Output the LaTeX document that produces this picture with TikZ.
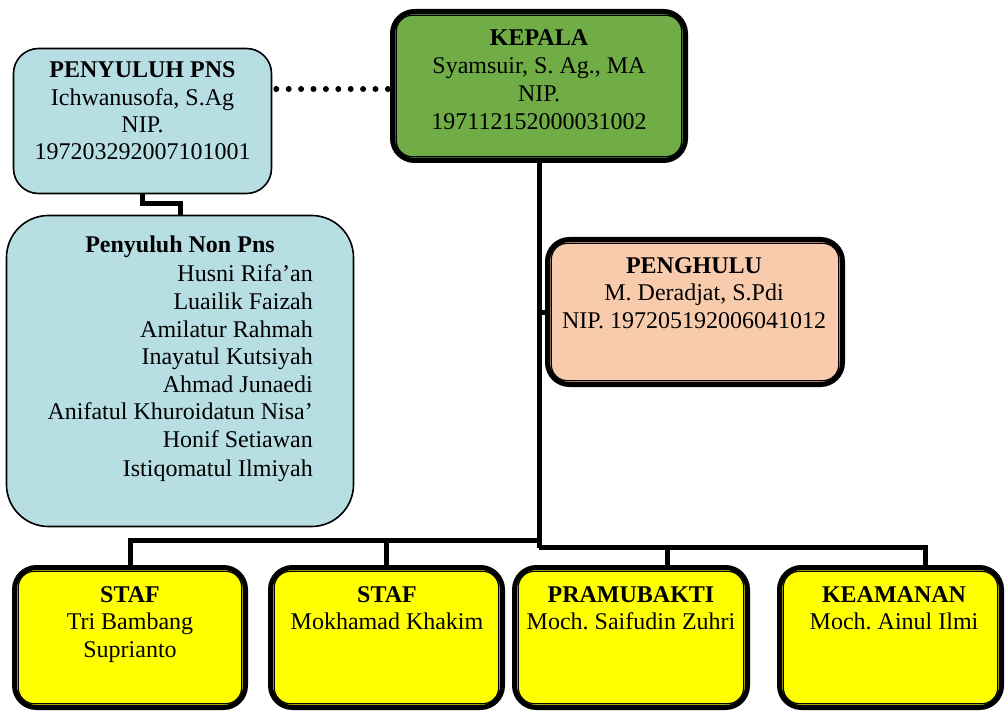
\documentclass[tikz,border=0pt]{standalone}
\usepackage{fontspec}
\setmainfont{Liberation Serif}
\usetikzlibrary{calc}
\frenchspacing
\definecolor{cgreen}{HTML}{70AD47}
\definecolor{cblue}{HTML}{B7DEE3}
\definecolor{cpeach}{HTML}{F8CBAD}
\definecolor{cyel}{HTML}{FFFF00}
\tikzset{
 txt/.style={inner sep=0pt, font=\fontsize{24}{28}\selectfont, anchor=base},
 rtxt/.style={txt, anchor=base east},
 dbox/.style={draw=black, line width=5pt, rounded corners=22pt, inner sep=0pt},
 sbox/.style={draw=black, line width=1.6pt, inner sep=0pt, fill=cblue},
 inbox/.style={draw=black, line width=1.2pt},
 conn/.style={draw=black, line width=5pt},
 dotline/.style={line width=6pt, line cap=round, dash pattern=on 0pt off 12.4pt},
}
\newcommand\innerframe[2]{\draw[inbox, rounded corners=#2] ([shift={(6.3pt,-6.3pt)}]#1.north west) rectangle ([shift={(-6.3pt,6.3pt)}]#1.south east);}
\newcommand\mklines[6]{\foreach \t [count=\i] in {#6} {\node[txt, anchor=#4] (#1\i) at (#2, {#3+#5*(\i-1)}) {\t};}}
\begin{document}
\begin{tikzpicture}[x=1pt,y=-1pt]
\useasboundingbox (0,0) rectangle (1006,711);
\clip (0,0) rectangle (1006,711);
% boxes
\node[dbox, fill=cgreen, minimum width=293pt, minimum height=149pt] (kepala) at (539,86) {};
\innerframe{kepala}{16pt}
\node[sbox, rounded corners=25pt, minimum width=258pt, minimum height=145pt] (pns) at (142.5,121) {};
\node[sbox, rounded corners=42pt, minimum width=347pt, minimum height=311pt] (nonpns) at (180,371) {};
\node[dbox, fill=cpeach, minimum width=295pt, minimum height=145pt] (penghulu) at (695,312) {};
\innerframe{penghulu}{16pt}
\node[dbox, fill=cyel, minimum width=231pt, minimum height=140pt] (staf1) at (130,637.5) {};
\innerframe{staf1}{16pt}
\node[dbox, fill=cyel, minimum width=232pt, minimum height=140pt] (staf2) at (386.5,637.5) {};
\innerframe{staf2}{16pt}
\node[dbox, fill=cyel, minimum width=233pt, minimum height=140pt] (pramu) at (631,637.5) {};
\innerframe{pramu}{16pt}
\node[dbox, fill=cyel, minimum width=222pt, minimum height=140pt] (keam) at (890.5,637.5) {};
\innerframe{keam}{16pt}
% connectors
\coordinate (hubL) at (539,540);
\coordinate (hubR) at (539,547.5);
\draw[conn] (kepala.south) -- (hubR);
\draw[conn] (staf1.north) |- (hubL);
\draw[conn] (staf2.north) -- (staf2.north |- hubL);
\draw[conn] (hubR) -| ([xshift=34.5pt]keam.north);
\draw[conn] ([xshift=36pt]pramu.north) -- ([xshift=36pt]pramu.north |- hubR);
\draw[conn] (kepala.south |- penghulu.west) -- (penghulu.west);
\coordinate (pj) at (160,204);
\draw[conn] (pns.south) |- (pj) -| (nonpns.north);
\coordinate (dy) at (0,89);
\draw[dotline] ($(pns.east |- dy)+(4pt,0pt)$) -- ($(kepala.west |- dy)+(0pt,0pt)$);
% texts
\mklines{tk}{539}{46}{base}{28}{\textbf{KEPALA}, {Syamsuir, S. Ag., MA}, NIP., 197112152000031002}
\mklines{tp}{142.5}{78}{base}{27.3}{\textbf{PENYULUH PNS}, {Ichwanusofa, S.Ag}, NIP., 197203292007101001}
\node[txt] (tn0) at (180,253) {\textbf{Penyuluh Non Pns}};
\mklines{tn}{313}{282}{base east}{27.5}{Husni Rifa’an, Luailik Faizah, Amilatur Rahmah, Inayatul Kutsiyah, Ahmad Junaedi, Anifatul Khuroidatun Nisa’, Honif Setiawan}
\node[rtxt] (tn8) at (313,476) {Istiqomatul Ilmiyah};
\mklines{th}{694}{273}{base}{27.6}{\textbf{PENGHULU}, {M. Deradjat, S.Pdi}, NIP. 197205192006041012}
\mklines{ts}{130}{602}{base}{27.5}{\textbf{STAF}, Tri Bambang, Suprianto}
\mklines{tt}{387}{602}{base}{27.5}{\textbf{STAF}, Mokhamad Khakim}
\mklines{tr}{631}{602}{base}{27.5}{\textbf{PRAMUBAKTI}, Moch. Saifudin Zuhri}
\mklines{tm}{894}{602}{base}{27.5}{\textbf{KEAMANAN}, Moch. Ainul Ilmi}
\end{tikzpicture}
\end{document}
